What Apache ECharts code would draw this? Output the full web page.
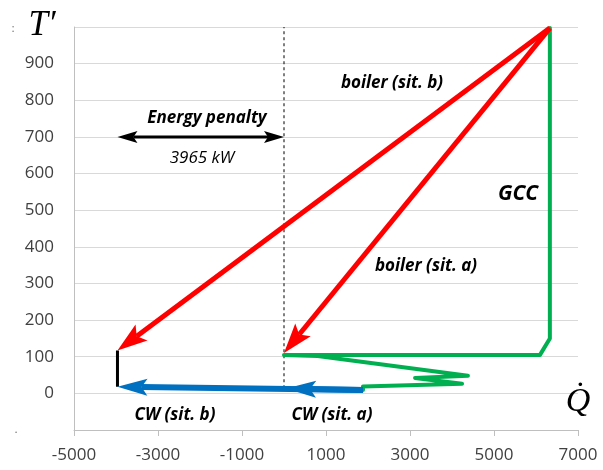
<!DOCTYPE html>
<html>
<head>
<meta charset="utf-8">
<script src="https://cdn.jsdelivr.net/npm/echarts@6/dist/echarts.min.js"></script>
<style>
  html, body { margin: 0; padding: 0; background: #fff; }
  #chart { width: 603px; height: 470px; }
</style>
</head>
<body>
<div id="chart"></div>
<script>
// Axis ticks
var xTicks = [-5000, -3000, -1000, 1000, 3000, 5000, 7000];
var yTicks = [0, 100, 200, 300, 400, 500, 600, 700, 800, 900];

// Grand composite curve (heat flow Q, shifted temperature T')
var gccQ = [6330, 6330, 6095, 0, 800, 4380, 3120, 4240, 1880, 1880];
var gccT = [997, 150, 105, 105, 102, 48, 42, 26, 19, 9];

// Boiler duty arrows: [Q start, T start, Q end, T end]
var boilerA = [6330, 997, 0, 110];
var boilerB = [6330, 997, -3965, 117];

// Cooling water arrows
var cwA = [1880, 9, 50, 13];
var cwB = [1880, 9, -3965, 18];

// Shifted cooling-water step at the penalised pinch
var stepQ = [-3965, -3965];
var stepT = [18, 117];

// Energy penalty span (kW) and pinch line
var penalty = [-3965, 700, 0, 700];
var pinchQ = [0, 0];
var pinchT = [14, 1000];

var chart = echarts.init(document.getElementById('chart'), null, { renderer: 'canvas' });

var labelFont = '"Open Sans", Lato, sans-serif';

function arrowHead(tip, dir, len, w) {
  var ux = dir[0], uy = dir[1];
  var nx = -uy, ny = ux;
  var bx = tip[0] - ux * len, by = tip[1] - uy * len;
  var notch = [tip[0] - ux * len * 0.8, tip[1] - uy * len * 0.8];
  return {
    pts: [tip, [bx + nx * w / 2, by + ny * w / 2], notch, [bx - nx * w / 2, by - ny * w / 2]],
    notch: notch
  };
}

function arrowSeries(name, segs, color, width, headLen, headW, both) {
  return {
    type: 'custom',
    name: name,
    clip: false,
    z: 5,
    encode: { x: [0, 2], y: [1, 3] },
    data: segs,
    renderItem: function (params, api) {
      var a = api.coord([api.value(0), api.value(1)]);
      var b = api.coord([api.value(2), api.value(3)]);
      var dx = b[0] - a[0], dy = b[1] - a[1];
      var d = Math.sqrt(dx * dx + dy * dy);
      var u = [dx / d, dy / d];
      var end = arrowHead(b, u, headLen, headW);
      var children = [];
      var start = a;
      if (both) {
        var beg = arrowHead(a, [-u[0], -u[1]], headLen, headW);
        start = beg.notch;
        children.push({ type: 'polygon', shape: { points: beg.pts }, style: { fill: color } });
      }
      children.unshift({
        type: 'polyline',
        shape: { points: [start, end.notch] },
        style: { stroke: color, lineWidth: width, fill: null, lineCap: 'butt' }
      });
      children.push({ type: 'polygon', shape: { points: end.pts }, style: { fill: color } });
      return { type: 'group', children: children };
    }
  };
}

function pairs(xs, ys) {
  return xs.map(function (x, i) { return [x, ys[i]]; });
}

function txt(text, x, y, size, bold, italic, extra) {
  var s = {
    text: text,
    fontSize: size,
    fontWeight: bold ? 'bold' : 'normal',
    fontStyle: italic ? 'italic' : 'normal',
    fontFamily: labelFont,
    fill: '#000',
    align: 'center',
    verticalAlign: 'middle'
  };
  if (extra) for (var k in extra) s[k] = extra[k];
  return { type: 'text', x: x, y: y, z: 10, style: s };
}

var option = {
  backgroundColor: '#fff',
  animation: false,
  grid: { left: 74, right: 25, top: 27, bottom: 40 },
  xAxis: {
    type: 'value',
    min: -5000,
    max: 7000,
    interval: 2000,
    axisLine: { show: true, onZero: false, lineStyle: { color: '#bfbfbf', width: 1 } },
    axisTick: { show: true, length: 6, lineStyle: { color: '#bfbfbf' } },
    splitLine: { show: false },
    axisLabel: {
      margin: 17,
      fontSize: 17,
      fontFamily: labelFont,
      color: '#404040',
      formatter: function (v) { return xTicks.indexOf(v) >= 0 ? String(v) : ''; }
    }
  },
  yAxis: {
    type: 'value',
    min: -100,
    max: 1000,
    interval: 100,
    axisLine: { show: true, onZero: false, lineStyle: { color: '#bfbfbf', width: 1 } },
    axisTick: { show: false },
    splitLine: { show: true, lineStyle: { color: '#d9d9d9', width: 1 } },
    axisLabel: {
      margin: 20,
      fontSize: 17,
      fontFamily: labelFont,
      color: '#404040',
      formatter: function (v) { return yTicks.indexOf(v) >= 0 ? String(v) : ''; }
    }
  },
  series: [
    {
      type: 'line',
      name: 'pinch',
      data: pairs(pinchQ, pinchT),
      showSymbol: false,
      symbol: 'none',
      lineStyle: { color: '#000', width: 1, type: [3, 3] },
      z: 2
    },
    {
      type: 'line',
      name: 'GCC',
      data: pairs(gccQ, gccT),
      showSymbol: false,
      symbol: 'none',
      clip: false,
      lineStyle: { color: '#00B050', width: 4, join: 'round', cap: 'round' },
      z: 3
    },
    {
      type: 'line',
      name: 'CW step',
      data: pairs(stepQ, stepT),
      showSymbol: false,
      symbol: 'none',
      lineStyle: { color: '#000', width: 3 },
      z: 4
    },
    arrowSeries('CW (sit. b)', [cwB], '#0070C0', 6, 30, 17, false),
    arrowSeries('CW (sit. a)', [cwA], '#0070C0', 6, 30, 17, false),
    arrowSeries('boiler (sit. b)', [boilerB], '#FF0000', 5, 30, 20, false),
    arrowSeries('boiler (sit. a)', [boilerA], '#FF0000', 5, 30, 20, false),
    arrowSeries('Energy penalty', [penalty], '#000', 3, 20, 12, true)
  ],
  graphic: [
    txt('Energy penalty', 207, 118, 17, true, true),
    txt('3965 kW', 202, 158, 17, false, true),
    txt('boiler (sit. b)', 392, 83, 17, true, true),
    txt('GCC', 518, 194, 21, true, true),
    txt('boiler (sit. a)', 426, 266, 17, true, true),
    txt('CW (sit. b)', 175, 415, 17, true, true),
    txt('CW (sit. a)', 332, 415, 17, true, true),
    txt('T\u2032', 42, 26, 35, false, true, { fontFamily: '"Liberation Serif", "DejaVu Serif", serif' }),
    txt('Q\u0307', 578, 402, 34, false, true, { fontFamily: '"Liberation Serif", "DejaVu Serif", serif' }),
    txt(':', 13, 29, 10, false, false, { fill: '#555' }),
    txt('.', 16, 430, 10, false, false, { fill: '#555' })
  ]
};

chart.setOption(option);
</script>
</body>
</html>
